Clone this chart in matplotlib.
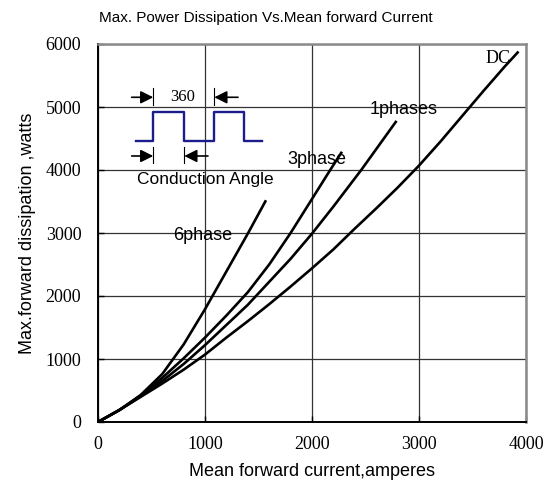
import numpy as np
import matplotlib.pyplot as plt

# curves (mean current [A], max dissipation [W])
I_6ph = [0, 200, 400, 600, 800, 1000, 1200, 1400, 1570]
P_6ph = [0, 190, 430, 760, 1230, 1790, 2390, 2990, 3520]
I_3ph = [0, 200, 400, 600, 800, 1000, 1200, 1400, 1600, 1800, 2000, 2170, 2280]
P_3ph = [0, 190, 420, 700, 1010, 1340, 1690, 2060, 2500, 3000, 3540, 4000, 4290]
I_1ph = [0, 200, 400, 600, 800, 1000, 1400, 1800, 2000, 2200, 2460, 2790]
P_1ph = [0, 190, 410, 650, 920, 1220, 1860, 2590, 2990, 3420, 4000, 4780]
I_dc = [0, 200, 400, 600, 800, 1000, 1200, 1400, 1600, 1800, 2000, 2200,
        2400, 2600, 2800, 3000, 3200, 3400, 3600, 3800, 3930]
P_dc = [0, 190, 400, 610, 830, 1070, 1340, 1600, 1870, 2150, 2440, 2740,
        3070, 3390, 3720, 4070, 4450, 4850, 5250, 5640, 5880]

curves = [(I_6ph, P_6ph), (I_3ph, P_3ph), (I_1ph, P_1ph), (I_dc, P_dc)]
labels = ['6phase', '3phase', '1phases', 'DC']
label_pos = [(981, 2968), (2044, 4159), (2855, 4968), (3742, 5773)]

xticks = [0, 1000, 2000, 3000, 4000]
yticks = [0, 1000, 2000, 3000, 4000, 5000, 6000]

# square wave of the inset sketch (inset units)
wave_x = [11, 28.3, 28.3, 59.3, 59.3, 89.3, 89.3, 119, 119, 137]
wave_y = [67.7, 67.7, 38.7, 38.7, 67.7, 67.7, 38.7, 38.7, 67.7, 67.7]

sans = 'Liberation Sans'
serif = 'Liberation Serif'

fig = plt.figure(figsize=(5.47, 4.91), dpi=100)
ax = fig.add_axes([98/547, 1-422/491, 428/547, 378/491])

for (x, y) in curves:
    ax.plot(x, y, c='k', lw=1.9, zorder=3, solid_capstyle='butt')

for lab, (lx, ly) in zip(labels, label_pos):
    if lab == 'DC':
        ax.text(lx, ly, lab, family=serif, fontsize=13, ha='center',
                va='center', zorder=6)
    else:
        ax.text(lx, ly, lab, family=sans, fontsize=13, ha='center',
                va='center', zorder=6)

ax.set_xlim(0, 4000)
ax.set_ylim(0, 6000)
ax.set_xticks(xticks)
ax.set_yticks(yticks)
ax.grid(color='#333333', lw=0.9, zorder=1)
ax.set_axisbelow(True)
for lab in ax.get_xticklabels() + ax.get_yticklabels():
    lab.set_family(serif)
    lab.set_fontsize(13)
ax.tick_params(direction='in', length=4, width=1, pad=10)
ax.tick_params(axis='y', pad=12)
ax.spines['left'].set_linewidth(1.4)
ax.spines['bottom'].set_linewidth(1.4)
for s in ['top', 'right']:
    ax.spines[s].set_color('#8a8a8a')
    ax.spines[s].set_linewidth(1.8)

ax.set_xlabel('Mean forward current,amperes', family=sans, fontsize=13,
              labelpad=7)
ax.set_ylabel('Max.forward dissipation ,watts', family=sans, fontsize=13,
              labelpad=7)
fig.text(0.486, 0.964, 'Max. Power Dissipation Vs.Mean forward Current',
         family=sans, fontsize=11, ha='center', va='center')

# inset sketch of the conduction angle
ins = ax.inset_axes([252, 3524, 1421, 2016], transform=ax.transData)
ins.set_xlim(0, 152)
ins.set_ylim(127, 0)
ins.set_facecolor('white')
ins.axis('off')
ins.patch.set_visible(True)
ins.plot(wave_x, wave_y, c='#1c1c8c', lw=1.7)
arr = dict(arrowstyle='-|>', color='k', lw=1.2, mutation_scale=19,
           shrinkA=0, shrinkB=0)
for xm in [28.3, 89.3]:
    ins.plot([xm, xm], [15, 32], c='k', lw=0.8)
for xm in [28.3, 59.3]:
    ins.plot([xm, xm], [73.7, 90], c='k', lw=0.8)
ins.annotate('', xy=(28.3, 24.3), xytext=(6.7, 24.3), arrowprops=arr)
ins.annotate('', xy=(89.3, 24.3), xytext=(113, 24.3), arrowprops=arr)
ins.annotate('', xy=(28.3, 83), xytext=(6.7, 83), arrowprops=arr)
ins.annotate('', xy=(59.3, 83), xytext=(83, 83), arrowprops=arr)
ins.text(57.7, 24.3, '360', family=serif, fontsize=12, ha='center',
         va='center')
ins.text(80, 107, 'Conduction Angle', family=sans, fontsize=12.5,
         ha='center', va='center')

fig.savefig('out.png', dpi=100)
